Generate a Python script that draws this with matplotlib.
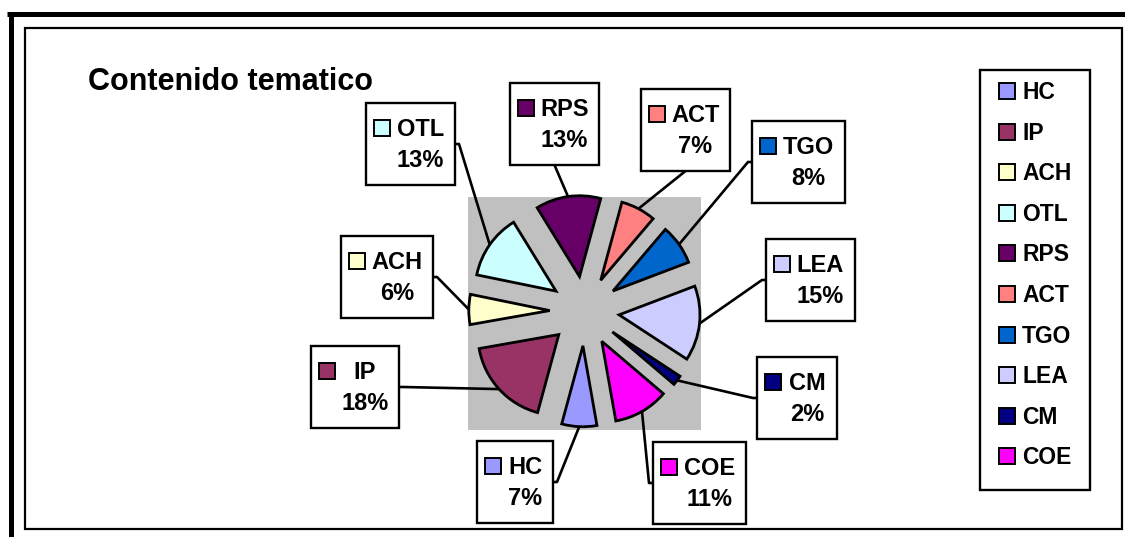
import matplotlib.pyplot as plt
from matplotlib.patches import Rectangle
import numpy as np

names = ['HC', 'IP', 'ACH', 'OTL', 'RPS', 'ACT', 'TGO', 'LEA', 'CM', 'COE']
shares = [7, 18, 6, 13, 13, 7, 8, 15, 2, 11]
colors = ['#9999ff', '#993366', '#ffffcc', '#ccffff', '#660066',
          '#ff8080', '#0066cc', '#ccccff', '#000080', '#ff00ff']

# data label boxes (pixels): left, top, width, side the leader line leaves from
box_left = [477, 311, 341, 366, 510, 641, 752, 766, 757, 653]
box_top = [441, 346, 236, 103, 83, 89, 121, 239, 357, 442]
box_w = [76, 88, 92, 89, 89, 89, 93, 89, 80, 93]
box_side = ['right', 'right', 'right', 'right', 'bottom',
            'bottom', 'left', 'left', 'left', 'left']
BOX_H = 82

plt.rcParams['font.family'] = ['Liberation Sans', 'DejaVu Sans']

W, H = 1125, 537
fig = plt.figure(figsize=(W / 100, H / 100), dpi=100)

# pie on the grey plot area
ax = fig.add_axes([468 / W, (H - 430) / H, 233 / W, 233 / H])
wedges, _ = ax.pie(shares, colors=colors, startangle=-80, counterclock=False,
                   explode=[0.43] * len(shares), radius=1, frame=True,
                   wedgeprops=dict(edgecolor='black', linewidth=2.0))
ax.set_aspect('auto')
ax.set_xlim(-1.44, 1.44)
ax.set_ylim(-1.47, 1.41)
ax.set_facecolor('#c0c0c0')
ax.set_xticks([])
ax.set_yticks([])
for s in ax.spines.values():
    s.set_visible(False)

# overlay in pixel coords for frame, title, label boxes and legend
ov = fig.add_axes([0, 0, 1, 1], zorder=3)
ov.set_xlim(0, W)
ov.set_ylim(H, 0)
ov.axis('off')

ov.plot([7, W], [14.2, 14.2], color='black', lw=3.6, solid_capstyle='butt')
ov.plot([10.5, 10.5], [12, H], color='black', lw=3.6, solid_capstyle='butt')
ov.add_patch(Rectangle((24.5, 28.3), 1121.7 - 24.5, 529.3 - 28.3,
                       fill=False, edgecolor='black', lw=1.6))

ov.text(88, 90, 'Contenido tematico', fontsize=22, fontweight='bold',
        va='baseline', ha='left')

# leader lines (drawn in the pie axes, under the wedges)
to_pie = ax.transData.inverted()
for i, wd in enumerate(wedges):
    mid = np.deg2rad((wd.theta1 + wd.theta2) / 2)
    tip = (wd.center[0] + wd.r * np.cos(mid), wd.center[1] + wd.r * np.sin(mid))
    l, t, w = box_left[i], box_top[i], box_w[i]
    if box_side[i] == 'right':
        pts = [(l + w, t + BOX_H / 2), (l + w + 4, t + BOX_H / 2)]
    elif box_side[i] == 'left':
        pts = [(l, t + BOX_H / 2), (l - 4, t + BOX_H / 2)]
    else:
        pts = [(l + w / 2, t + BOX_H)]
    pp = [to_pie.transform(ov.transData.transform(p)) for p in pts] + [tip]
    ax.plot([p[0] for p in pp], [p[1] for p in pp], color='black', lw=1.9,
            clip_on=False, zorder=0.5)

# label boxes
for i in range(len(names)):
    l, t, w = box_left[i], box_top[i], box_w[i]
    ov.add_patch(Rectangle((l, t), w, BOX_H, facecolor='white',
                           edgecolor='black', lw=1.7))
    ov.add_patch(Rectangle((l + 8, t + 17), 16, 16, facecolor=colors[i],
                           edgecolor='black', lw=1.4))
    cx = l + 31 + (w - 42) / 2
    ov.text(cx, t + 33, names[i], ha='center', va='baseline',
            fontsize=17, fontweight='bold')
    ov.text(cx, t + 64, f'{shares[i]}%', ha='center', va='baseline',
            fontsize=17, fontweight='bold')

# legend
ov.add_patch(Rectangle((980, 70), 110, 420, facecolor='white',
                       edgecolor='black', lw=1.7))
for i, name in enumerate(names):
    y = 83 + i * 40.6
    ov.add_patch(Rectangle((999, y), 16, 16, facecolor=colors[i],
                           edgecolor='black', lw=1.4))
    ov.text(1022, y + 16, name, fontsize=16.5, fontweight='bold',
            va='baseline', ha='left')

fig.savefig('out.png', dpi=100)
